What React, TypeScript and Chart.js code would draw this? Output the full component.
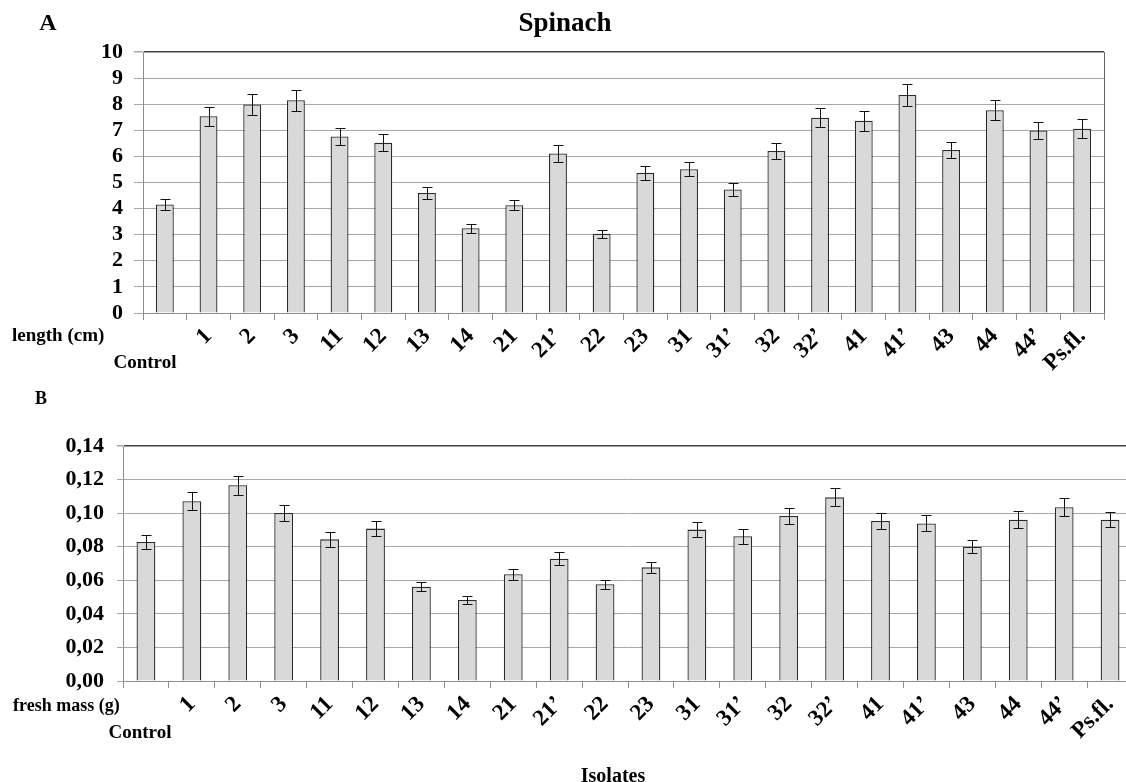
import React, { useEffect, useRef } from "react";
import { Chart, registerables } from "chart.js";

Chart.register(...registerables);

const categories = ["Control", "1", "2", "3", "11", "12", "13", "14", "21", "21’", "22", "23", "31", "31’", "32", "32’", "41", "41’", "43", "44", "44’", "Ps.fl."];

const lengthValues = [4.16, 7.54, 7.99, 8.15, 6.76, 6.52, 4.6, 3.25, 4.13, 6.11, 3.04, 5.37, 5.51, 4.73, 6.21, 7.48, 7.37, 8.35, 6.25, 7.77, 6.99, 7.06];
const lengthErrors = [0.21, 0.37, 0.41, 0.41, 0.34, 0.32, 0.24, 0.17, 0.2, 0.31, 0.15, 0.27, 0.27, 0.24, 0.3, 0.37, 0.38, 0.42, 0.3, 0.38, 0.34, 0.36];

const massValues = [0.0828, 0.1071, 0.1166, 0.1001, 0.0844, 0.0908, 0.0562, 0.0483, 0.0636, 0.0729, 0.0576, 0.0677, 0.0902, 0.0862, 0.0983, 0.1094, 0.0953, 0.0939, 0.08, 0.0961, 0.1035, 0.0961];
const massErrors = [0.0042, 0.0055, 0.0057, 0.005, 0.0043, 0.0045, 0.0026, 0.0024, 0.0033, 0.0038, 0.0028, 0.0033, 0.0046, 0.0046, 0.005, 0.0053, 0.0047, 0.0048, 0.0038, 0.005, 0.0053, 0.0046];

const lengthTicks = { min: 0, max: 10, step: 1 };
const massTicks = { min: 0, max: 0.14, step: 0.02 };

const FONT = "'Liberation Serif', 'Times New Roman', serif";

function makeErrorPlugin(errors: number[], drawRight: boolean) {
  return {
    id: "errbars",
    afterDatasetsDraw(chart: any) {
      const ctx = chart.ctx;
      const meta = chart.getDatasetMeta(0);
      const ys = chart.scales.y;
      const vals = chart.data.datasets[0].data as number[];
      ctx.save();
      ctx.strokeStyle = "#111";
      ctx.lineWidth = 1;
      meta.data.forEach((bar: any, i: number) => {
        const x = Math.round(bar.x) + 0.5;
        const yt = Math.round(ys.getPixelForValue(vals[i] + errors[i])) + 0.5;
        const yb = Math.round(ys.getPixelForValue(vals[i] - errors[i])) + 0.5;
        ctx.beginPath();
        ctx.moveTo(x, yt);
        ctx.lineTo(x, yb);
        ctx.moveTo(x - 5, yt);
        ctx.lineTo(x + 5, yt);
        ctx.moveTo(x - 5, yb);
        ctx.lineTo(x + 5, yb);
        ctx.stroke();
      });
      if (drawRight) {
        const a = chart.chartArea;
        ctx.strokeStyle = "#666";
        ctx.beginPath();
        ctx.moveTo(Math.round(a.right) + 0.5, a.top);
        ctx.lineTo(Math.round(a.right) + 0.5, a.bottom);
        ctx.stroke();
      }
      ctx.restore();
    },
  };
}

function makeConfig(opts: {
  values: number[];
  errors: number[];
  ticks: { min: number; max: number; step: number };
  fmt: (v: number) => string;
  padTop: number;
  padRight: number;
  yWidth: number;
  xHeight: number;
  yFont: number;
  yPad: number;
  yTickLen: number;
  drawRight: boolean;
}): any {
  const { values, errors, ticks } = opts;
  return {
    type: "bar",
    data: {
      labels: categories,
      datasets: [
        {
          data: values,
          backgroundColor: "#d9d9d9",
          borderColor: "#2a2a2a",
          borderWidth: 1.3,
          categoryPercentage: 1,
          barPercentage: 0.41,
        },
      ],
    },
    options: {
      responsive: false,
      animation: false,
      devicePixelRatio: 1,
      layout: { padding: { top: opts.padTop, right: opts.padRight, left: 0, bottom: 0 } },
      plugins: { legend: { display: false }, tooltip: { enabled: false }, title: { display: false } },
      scales: {
        x: {
          grid: { drawOnChartArea: false, color: "#8c8c8c", tickLength: 7, offset: true },
          border: { color: "#8c8c8c" },
          ticks: {
            autoSkip: false,
            maxRotation: 45,
            minRotation: 45,
            padding: 3,
            color: "#000",
            font: { family: FONT, size: 23, weight: "bold" },
            callback: (_v: any, i: number) => (categories[i] === "Control" ? "" : categories[i]),
          },
          afterFit: (s: any) => {
            s.height = opts.xHeight;
          },
        },
        y: {
          min: ticks.min,
          max: ticks.max,
          grid: {
            color: (c: any) => (c.tick && Math.abs(c.tick.value - ticks.max) < 1e-9 ? "#444" : "#a8a8a8"),
            lineWidth: (c: any) => (c.tick && Math.abs(c.tick.value - ticks.max) < 1e-9 ? 1.5 : 1),
            tickLength: opts.yTickLen,
            tickColor: "#a8a8a8",
          },
          border: { color: "#8c8c8c" },
          ticks: {
            autoSkip: false,
            stepSize: ticks.step,
            padding: opts.yPad,
            color: "#000",
            font: { family: FONT, size: opts.yFont, weight: "bold" },
            callback: (v: any) => opts.fmt(Number(v)),
          },
          afterFit: (s: any) => {
            s.width = opts.yWidth;
          },
        },
      },
    },
    plugins: [makeErrorPlugin(errors, opts.drawRight)],
  };
}

const textStyle = (x: number, y: number, size: number, anchor: "center" | "left" = "center"): React.CSSProperties => ({
  position: "absolute",
  left: x,
  top: y,
  transform: anchor === "center" ? "translate(-50%, -50%)" : "translate(0, -50%)",
  fontFamily: FONT,
  fontWeight: "bold",
  fontSize: size,
  color: "#000",
  whiteSpace: "nowrap",
  lineHeight: 1,
});

export default function App() {
  const topRef = useRef<HTMLCanvasElement>(null);
  const botRef = useRef<HTMLCanvasElement>(null);

  useEffect(() => {
    const top = new Chart(
      topRef.current!,
      makeConfig({
        values: lengthValues,
        errors: lengthErrors,
        ticks: lengthTicks,
        fmt: (v) => String(Math.round(v)),
        padTop: 52,
        padRight: 22,
        yWidth: 143,
        xHeight: 375 - 313,
        yFont: 22,
        yPad: 11,
        yTickLen: 9,
        drawRight: true,
      })
    );
    const bot = new Chart(
      botRef.current!,
      makeConfig({
        values: massValues,
        errors: massErrors,
        ticks: massTicks,
        fmt: (v) => v.toFixed(2).replace(".", ","),
        padTop: 66,
        padRight: 17,
        yWidth: 123,
        xHeight: 402 - 301,
        yFont: 22,
        yPad: 13,
        yTickLen: 6,
        drawRight: false,
      })
    );
    return () => {
      top.destroy();
      bot.destroy();
    };
  }, []);

  return (
    <div style={{ position: "fixed", left: 0, top: 0, width: 1126, height: 782, overflow: "hidden", background: "#fff" }}>
      <canvas ref={topRef} width={1126} height={375} style={{ position: "absolute", left: 0, top: 0 }} />
      <canvas ref={botRef} width={1150} height={402} style={{ position: "absolute", left: 0, top: 380 }} />
      <div style={textStyle(48, 22, 24)}>A</div>
      <div style={textStyle(565, 22, 27)}>Spinach</div>
      <div style={textStyle(12, 334, 19, "left")}>length (cm)</div>
      <div style={textStyle(145, 361, 19)}>Control</div>
      <div style={textStyle(41, 398, 18)}>B</div>
      <div style={textStyle(13, 705, 18, "left")}>fresh mass (g)</div>
      <div style={textStyle(140, 731, 19)}>Control</div>
      <div style={textStyle(613, 775, 20)}>Isolates</div>
    </div>
  );
}
